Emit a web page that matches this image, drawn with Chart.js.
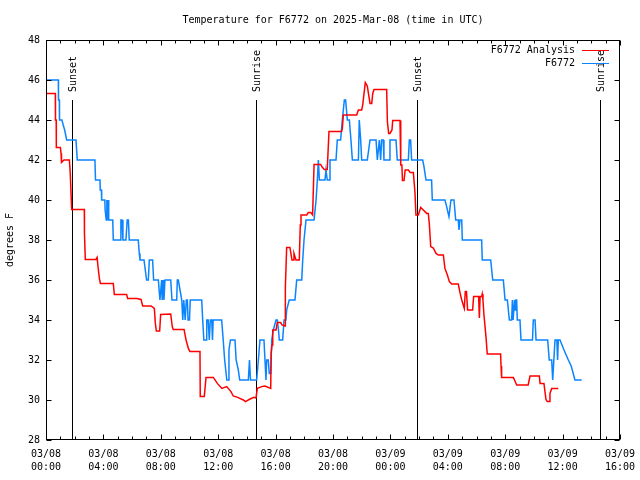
<!DOCTYPE html>
<html>
<head>
<meta charset="utf-8">
<script src="https://cdn.jsdelivr.net/npm/chart.js"></script>
<style>
html,body{margin:0;padding:0;background:#fff;}
#wrap{width:640px;height:480px;}
</style>
</head>
<body>
<div id="wrap"><canvas id="c" width="640" height="480"></canvas></div>
<script>
// ---- data (hours since 03/08 00:00 UTC, degrees F) ----
const titleText = 'Temperature for F6772 on 2025-Mar-08 (time in UTC)';
const seriesNames = ['F6772 Analysis', 'F6772'];
const yTickValues = [28, 30, 32, 34, 36, 38, 40, 42, 44, 46, 48];
const xTickDays = ['03/08', '03/08', '03/08', '03/08', '03/08', '03/08', '03/09', '03/09', '03/09', '03/09', '03/09'];
const xTickTimes = ['00:00', '04:00', '08:00', '12:00', '16:00', '20:00', '00:00', '04:00', '08:00', '12:00', '16:00'];
const sunHours = [1.82, 14.6, 25.88, 38.6];
const sunLabels = ['Sunset', 'Sunrise', 'Sunset', 'Sunrise'];

const analysisHours = [0,0.65,0.66,0.71,0.72,1.0,1.05,1.08,1.25,1.63,1.69,1.79,2.67,2.68,2.74,3.48,3.56,3.65,3.72,3.79,4.69,4.76,5.62,5.69,6.32,6.62,6.74,7.32,7.55,7.62,7.69,7.92,7.99,8.69,8.8,8.87,9.62,9.76,9.92,10.03,10.73,10.75,11.03,11.15,11.66,11.94,12.26,12.59,12.89,13.05,13.36,13.75,13.89,14.22,14.49,14.63,14.73,15.03,15.26,15.66,15.69,15.75,15.8,16.03,16.12,16.35,16.45,16.66,16.68,16.77,17.0,17.14,17.24,17.28,17.42,17.65,17.72,17.77,18.17,18.28,18.45,18.58,18.68,19.14,19.22,19.39,19.6,19.72,20.6,20.65,20.72,21.65,21.77,22.0,22.07,22.25,22.39,22.58,22.7,22.77,22.86,23.74,23.79,23.88,23.97,24.11,24.16,24.67,24.72,24.8,24.84,24.95,25.03,25.25,25.38,25.6,25.71,25.78,25.95,26.11,26.29,26.53,26.64,26.71,26.81,26.99,27.18,27.34,27.69,27.8,27.97,28.11,28.27,28.73,28.85,28.97,29.15,29.22,29.3,29.38,29.73,29.8,30.15,30.2,30.25,30.36,30.4,30.45,30.52,30.66,30.75,31.68,31.71,31.75,32.57,32.68,32.8,33.6,33.73,34.38,34.43,34.7,34.84,34.93,35.07,35.12,35.24,35.7];
const analysisTemps = [45.33,45.33,44.0,44.0,42.63,42.63,42.33,41.88,42.0,42.0,41.33,39.53,39.53,38.33,37.03,37.03,37.13,36.5,36.08,35.83,35.83,35.28,35.28,35.08,35.08,35.03,34.7,34.7,34.58,33.83,33.45,33.45,34.28,34.3,33.67,33.53,33.53,33.0,32.58,32.42,32.42,30.17,30.17,31.13,31.13,30.83,30.58,30.67,30.42,30.2,30.13,30.0,29.92,30.05,30.13,30.1,30.58,30.67,30.7,30.58,32.33,32.75,33.5,33.5,33.87,33.87,33.75,33.7,35.63,37.63,37.63,37.0,37.0,37.33,37.0,37.0,38.75,39.25,39.25,39.37,39.37,39.25,41.78,41.78,41.67,41.53,41.53,43.42,43.42,43.58,44.25,44.25,44.5,44.5,44.75,45.87,45.7,44.83,44.83,45.33,45.53,45.53,43.92,43.33,43.33,43.5,43.97,43.97,41.75,41.75,40.97,40.97,41.5,41.5,41.37,41.37,40.4,39.25,39.25,39.63,39.5,39.33,39.33,38.83,37.67,37.6,37.33,37.25,37.25,36.58,36.25,35.92,35.8,35.8,35.37,35.0,34.58,35.42,35.42,34.5,34.5,35.17,35.17,34.1,35.17,35.17,35.3,35.0,34.25,33.17,32.3,32.3,31.7,31.12,31.12,30.95,30.75,30.75,31.2,31.2,30.83,30.83,30.03,29.92,29.92,30.33,30.58,30.58];

const obsHours = [0,0.86,0.87,0.93,0.94,1.11,1.2,1.3,1.44,2.09,2.18,3.41,3.45,3.76,3.78,3.86,3.88,4.1,4.12,4.2,4.24,4.28,4.33,4.37,4.65,4.69,5.16,5.22,5.3,5.36,5.57,5.66,5.74,5.8,6.43,6.5,6.55,6.83,6.92,7.01,7.13,7.2,7.43,7.5,7.83,7.94,8.06,8.1,8.17,8.22,8.29,8.69,8.78,9.11,9.15,9.22,9.34,9.46,9.53,9.6,9.7,9.78,9.85,9.9,10.0,10.05,10.85,10.92,11.0,11.15,11.2,11.3,11.38,11.45,11.55,11.6,11.65,12.24,12.35,12.45,12.6,12.7,12.75,12.85,13.17,13.25,13.4,13.5,14.1,14.18,14.25,14.68,14.8,14.91,15.19,15.33,15.38,15.49,15.56,15.66,15.73,15.84,16.03,16.12,16.2,16.26,16.49,16.59,16.72,16.77,16.95,17.35,17.47,17.82,17.89,17.98,18.12,18.68,18.82,18.91,18.98,19.05,19.44,19.51,19.6,19.74,19.79,20.21,20.3,20.53,20.65,20.79,20.88,21.0,21.14,21.25,21.35,21.77,21.83,21.93,22.0,22.39,22.58,23.0,23.09,23.23,23.32,23.39,23.5,23.55,23.92,23.97,24.39,24.48,25.25,25.32,25.41,25.48,26.25,26.34,26.48,26.87,26.92,27.8,27.92,28.08,28.22,28.43,28.55,28.73,28.78,28.85,28.97,29.01,30.36,30.4,30.99,31.13,31.87,31.99,32.15,32.29,32.45,32.5,32.55,32.65,32.7,32.75,32.8,32.84,33.03,33.1,33.9,33.96,34.08,34.15,34.96,35.07,35.24,35.31,35.47,35.6,35.65,35.7,35.82,36.1,36.4,36.6,36.86,37.33];
const obsTemps = [46,46,45,45,44,44,43.75,43.5,43,43,42,42,41,41,40.5,40.5,40,40,39.5,39,40,39,40,39,39,38,38,39,39,38,38,39,39,38,38,37.33,37,37,36.5,36,36,37,37,36,36,35,36,35,36,35,36,36,35,35,36,36,35.5,35,34,35,34,35,35,34,34,35,35,34,33,33,34,34,33,34,34,33,34,34,33,32,31,31,32.5,33,33,32,31.5,31,31,32,31,31,32,33,33,31,32,32,31.33,31.33,33,33.5,34,34,33.5,33,33,34,34,34.5,35,35,36,36,37,38,39,39,40,41,42,41,41,41.5,41,41,42,42,43,43,44,45,45,44,44,43,42,42,44,43,42,42,43,43,42,43,42,43,43,42,42,43,43,42,42,43,43,42,42,41.67,41,41,40,40,39.67,39.17,40,40,39,39,38.5,39,39,38,38,37,37,36,36,35,35,34,34,35,34,35,34.5,35,35,34,34,33,33,34,34,33,33,32,32,31,33,33,32,33,33,32.5,32,31.7,31,31];

// ---- chart ----
const FONT_FAMILY = '"DejaVu Sans Mono", monospace';
const FONT = '10px ' + FONT_FAMILY;

function toPoints(xs, ys) { return xs.map((h, i) => ({ x: h, y: ys[i] })); }

const gnuplotDecor = {
  id: 'gnuplotDecor',
  beforeDatasetsDraw(chart) {
    const { ctx, chartArea: a, scales: { x } } = chart;
    ctx.save();
    ctx.strokeStyle = '#000';
    ctx.lineWidth = 1;
    ctx.fillStyle = '#000';
    ctx.font = FONT;
    const lineTop = a.bottom - 0.85 * (a.bottom - a.top);
    const labelBase = a.bottom - 0.87 * (a.bottom - a.top);
    sunHours.forEach((h, i) => {
      const px = Math.round(x.getPixelForValue(h)) + 0.5;
      ctx.beginPath();
      ctx.moveTo(px, lineTop);
      ctx.lineTo(px, a.bottom);
      ctx.stroke();
      ctx.save();
      ctx.translate(px + 1, labelBase);
      ctx.rotate(-Math.PI / 2);
      ctx.textAlign = 'left';
      ctx.textBaseline = 'middle';
      ctx.fillText(sunLabels[i], 0, 0);
      ctx.restore();
    });
    ctx.restore();
  },
  afterDatasetsDraw(chart) {
    const { ctx, chartArea: a, scales: { x, y } } = chart;
    ctx.save();
    ctx.strokeStyle = '#000';
    ctx.lineWidth = 1;
    const L = Math.round(a.left) + 0.5, R = Math.round(a.right) - 0.5;
    const T = Math.round(a.top) + 0.5, B = Math.round(a.bottom) - 0.5;
    ctx.strokeRect(L, T, R - L, B - T);
    ctx.beginPath();
    // y ticks (inside, mirrored)
    yTickValues.forEach(v => {
      const py = Math.round(y.getPixelForValue(v)) + 0.5;
      ctx.moveTo(L, py); ctx.lineTo(L + 5, py);
      ctx.moveTo(R, py); ctx.lineTo(R - 5, py);
    });
    // x ticks: major every 4h, minor every 1h
    for (let h = x.min; h <= x.max; h += 1) {
      const px = Math.round(x.getPixelForValue(h)) + 0.5;
      const len = (h % 4 === 0) ? 5 : 3;
      ctx.moveTo(px, B); ctx.lineTo(px, B - len);
      ctx.moveTo(px, T); ctx.lineTo(px, T + len);
    }
    ctx.stroke();
    // legend (gnuplot style, inside top right)
    ctx.font = FONT;
    ctx.fillStyle = '#000';
    ctx.textAlign = 'right';
    ctx.textBaseline = 'middle';
    chart.data.datasets.forEach((ds, i) => {
      const ly = Math.round(a.top + 10 + i * 13) + 0.5;
      ctx.fillText(ds.label, a.right - 45, ly);
      ctx.strokeStyle = ds.borderColor;
      ctx.beginPath();
      ctx.moveTo(a.right - 38, ly);
      ctx.lineTo(a.right - 11, ly);
      ctx.stroke();
    });
    ctx.restore();
  }
};

new Chart(document.getElementById('c'), {
  type: 'line',
  data: {
    datasets: [
      {
        label: seriesNames[0],
        data: toPoints(analysisHours, analysisTemps),
        borderColor: '#ff0000',
        borderWidth: 1.5,
        pointRadius: 0,
        tension: 0,
        fill: false
      },
      {
        label: seriesNames[1],
        data: toPoints(obsHours, obsTemps),
        borderColor: '#0a84ff',
        borderWidth: 1.5,
        pointRadius: 0,
        tension: 0,
        fill: false
      }
    ]
  },
  plugins: [gnuplotDecor],
  options: {
    responsive: false,
    animation: false,
    devicePixelRatio: 1,
    layout: { padding: { left: 0, right: 20, top: 0, bottom: 0 } },
    plugins: {
      legend: { display: false },
      tooltip: { enabled: false },
      title: {
        display: true,
        fullSize: false,
        text: titleText,
        color: '#000',
        font: { family: FONT_FAMILY, size: 10, weight: 'normal', lineHeight: 1.2 },
        padding: { top: 14, bottom: 14 }
      }
    },
    scales: {
      x: {
        type: 'linear',
        min: 0,
        max: 40,
        grid: { display: false, drawTicks: false },
        border: { display: false },
        afterFit(scale) { scale.height = 40; scale.paddingLeft = 0; scale.paddingRight = 0; },
        afterBuildTicks(scale) {
          scale.ticks = xTickTimes.map((t, i) => ({ value: i * 4 }));
        },
        ticks: {
          color: '#000',
          padding: 8,
          maxRotation: 0,
          autoSkip: false,
          font: { family: FONT_FAMILY, size: 10, lineHeight: 1.3 },
          callback(value, index) { return [xTickDays[index], xTickTimes[index]]; }
        }
      },
      y: {
        min: 28,
        max: 48,
        grid: { display: false, drawTicks: false },
        border: { display: false },
        afterFit(scale) { scale.width = 46; scale.paddingTop = 0; scale.paddingBottom = 0; },
        afterBuildTicks(scale) {
          scale.ticks = yTickValues.map(v => ({ value: v }));
        },
        title: {
          display: true,
          text: 'degrees F',
          color: '#000',
          font: { family: FONT_FAMILY, size: 10, lineHeight: 1.2 },
          padding: { top: 4, bottom: 0 }
        },
        ticks: {
          color: '#000',
          padding: 6,
          font: { family: FONT_FAMILY, size: 10 },
          callback(value) { return String(value); }
        }
      }
    }
  }
});
</script>
</body>
</html>
